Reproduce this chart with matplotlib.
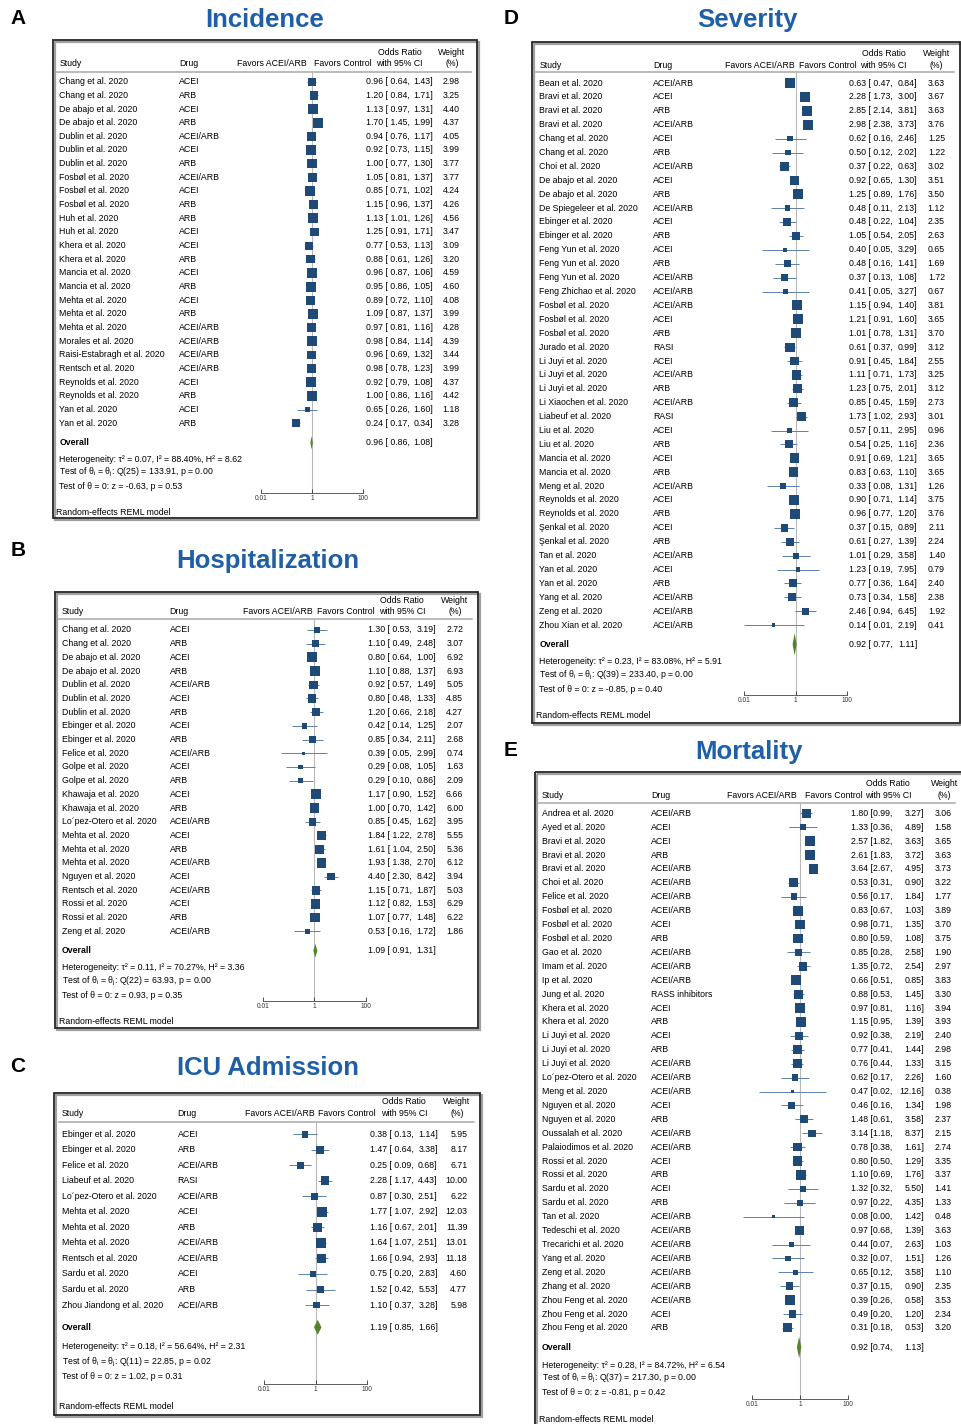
import matplotlib
matplotlib.use("Agg")
import matplotlib.pyplot as plt
import matplotlib.transforms as mtransforms
from matplotlib.patches import Rectangle
from matplotlib.ticker import NullLocator
import numpy as np

plt.rcParams["font.family"] = ["Liberation Sans", "DejaVu Sans"]
plt.rcParams["mathtext.fontset"] = "custom"
plt.rcParams["mathtext.rm"] = "Liberation Sans"
plt.rcParams["mathtext.it"] = "Liberation Sans:italic"

W, H = 961, 1424

# ---------------- data ----------------
# A - Incidence
inc_study = ["Chang et al. 2020", "Chang et al. 2020", "De abajo et al. 2020", "De abajo et al. 2020",
             "Dublin et al. 2020", "Dublin et al. 2020", "Dublin et al. 2020", "Fosbøl et al. 2020",
             "Fosbøl et al. 2020", "Fosbøl et al. 2020", "Huh et al. 2020", "Huh et al. 2020",
             "Khera et al. 2020", "Khera et al. 2020", "Mancia et al. 2020", "Mancia et al. 2020",
             "Mehta et al. 2020", "Mehta et al. 2020", "Mehta et al. 2020", "Morales et al. 2020",
             "Raisi-Estabragh et al. 2020", "Rentsch et al. 2020", "Reynolds et al. 2020",
             "Reynolds et al. 2020", "Yan et al. 2020", "Yan et al. 2020"]
inc_drug = ["ACEI", "ARB", "ACEI", "ARB", "ACEI/ARB", "ACEI", "ARB", "ACEI/ARB", "ACEI", "ARB",
            "ARB", "ACEI", "ACEI", "ARB", "ACEI", "ARB", "ACEI", "ARB", "ACEI/ARB", "ACEI/ARB",
            "ACEI/ARB", "ACEI/ARB", "ACEI", "ARB", "ACEI", "ARB"]
inc_or = [0.96, 1.20, 1.13, 1.70, 0.94, 0.92, 1.00, 1.05, 0.85, 1.15, 1.13, 1.25, 0.77, 0.88,
          0.96, 0.95, 0.89, 1.09, 0.97, 0.98, 0.96, 0.98, 0.92, 1.00, 0.65, 0.24]
inc_lo = [0.64, 0.84, 0.97, 1.45, 0.76, 0.73, 0.77, 0.81, 0.71, 0.96, 1.01, 0.91, 0.53, 0.61,
          0.87, 0.86, 0.72, 0.87, 0.81, 0.84, 0.69, 0.78, 0.79, 0.86, 0.26, 0.17]
inc_hi = [1.43, 1.71, 1.31, 1.99, 1.17, 1.15, 1.30, 1.37, 1.02, 1.37, 1.26, 1.71, 1.13, 1.26,
          1.06, 1.05, 1.10, 1.37, 1.16, 1.14, 1.32, 1.23, 1.08, 1.16, 1.60, 0.34]
inc_wt = [2.98, 3.25, 4.40, 4.37, 4.05, 3.99, 3.77, 3.77, 4.24, 4.26, 4.56, 3.47, 3.09, 3.20,
          4.59, 4.60, 4.08, 3.99, 4.28, 4.39, 3.44, 3.99, 4.37, 4.42, 1.18, 3.28]
inc_overall = [0.96, 0.86, 1.08]
inc_het = [0.07, 88.40, 8.62]
inc_q = [25, 133.91, 0.00]
inc_z = [-0.63, 0.53]

# B - Hospitalization
hos_study = ["Chang et al. 2020", "Chang et al. 2020", "De abajo et al. 2020", "De abajo et al. 2020",
             "Dublin et al. 2020", "Dublin et al. 2020", "Dublin et al. 2020", "Ebinger et al. 2020",
             "Ebinger et al. 2020", "Felice et al. 2020", "Golpe et al. 2020", "Golpe et al. 2020",
             "Khawaja et al. 2020", "Khawaja et al. 2020", "Lo´pez-Otero et al. 2020",
             "Mehta et al. 2020", "Mehta et al. 2020", "Mehta et al. 2020", "Nguyen et al. 2020",
             "Rentsch et al. 2020", "Rossi et al. 2020", "Rossi et al. 2020", "Zeng et al. 2020"]
hos_drug = ["ACEI", "ARB", "ACEI", "ARB", "ACEI/ARB", "ACEI", "ARB", "ACEI", "ARB", "ACEI/ARB",
            "ACEI", "ARB", "ACEI", "ARB", "ACEI/ARB", "ACEI", "ARB", "ACEI/ARB", "ACEI",
            "ACEI/ARB", "ACEI", "ARB", "ACEI/ARB"]
hos_or = [1.30, 1.10, 0.80, 1.10, 0.92, 0.80, 1.20, 0.42, 0.85, 0.39, 0.29, 0.29, 1.17, 1.00,
          0.85, 1.84, 1.61, 1.93, 4.40, 1.15, 1.12, 1.07, 0.53]
hos_lo = [0.53, 0.49, 0.64, 0.88, 0.57, 0.48, 0.66, 0.14, 0.34, 0.05, 0.08, 0.10, 0.90, 0.70,
          0.45, 1.22, 1.04, 1.38, 2.30, 0.71, 0.82, 0.77, 0.16]
hos_hi = [3.19, 2.48, 1.00, 1.37, 1.49, 1.33, 2.18, 1.25, 2.11, 2.99, 1.05, 0.86, 1.52, 1.42,
          1.62, 2.78, 2.50, 2.70, 8.42, 1.87, 1.53, 1.48, 1.72]
hos_wt = [2.72, 3.07, 6.92, 6.93, 5.05, 4.85, 4.27, 2.07, 2.68, 0.74, 1.63, 2.09, 6.66, 6.00,
          3.95, 5.55, 5.36, 6.12, 3.94, 5.03, 6.29, 6.22, 1.86]
hos_overall = [1.09, 0.91, 1.31]
hos_het = [0.11, 70.27, 3.36]
hos_q = [22, 63.93, 0.00]
hos_z = [0.93, 0.35]

# C - ICU admission
icu_study = ["Ebinger et al. 2020", "Ebinger et al. 2020", "Felice et al. 2020", "Liabeuf et al. 2020",
             "Lo´pez-Otero et al. 2020", "Mehta et al. 2020", "Mehta et al. 2020", "Mehta et al. 2020",
             "Rentsch et al. 2020", "Sardu et al. 2020", "Sardu et al. 2020",
             "Zhou Jiandong et al. 2020"]
icu_drug = ["ACEI", "ARB", "ACEI/ARB", "RASI", "ACEI/ARB", "ACEI", "ARB", "ACEI/ARB", "ACEI/ARB",
            "ACEI", "ARB", "ACEI/ARB"]
icu_or = [0.38, 1.47, 0.25, 2.28, 0.87, 1.77, 1.16, 1.64, 1.66, 0.75, 1.52, 1.10]
icu_lo = [0.13, 0.64, 0.09, 1.17, 0.30, 1.07, 0.67, 1.07, 0.94, 0.20, 0.42, 0.37]
icu_hi = [1.14, 3.38, 0.68, 4.43, 2.51, 2.92, 2.01, 2.51, 2.93, 2.83, 5.53, 3.28]
icu_wt = [5.95, 8.17, 6.71, 10.00, 6.22, 12.03, 11.39, 13.01, 11.18, 4.60, 4.77, 5.98]
icu_overall = [1.19, 0.85, 1.66]
icu_het = [0.18, 56.64, 2.31]
icu_q = [11, 22.85, 0.02]
icu_z = [1.02, 0.31]

# D - Severity
sev_study = ["Bean et al. 2020", "Bravi et al. 2020", "Bravi et al. 2020", "Bravi et al. 2020",
             "Chang et al. 2020", "Chang et al. 2020", "Choi et al. 2020", "De abajo et al. 2020",
             "De abajo et al. 2020", "De Spiegeleer et al. 2020", "Ebinger et al. 2020",
             "Ebinger et al. 2020", "Feng Yun et al. 2020", "Feng Yun et al. 2020",
             "Feng Yun et al. 2020", "Feng Zhichao et al. 2020", "Fosbøl et al. 2020",
             "Fosbøl et al. 2020", "Fosbøl et al. 2020", "Jurado et al. 2020", "Li Juyi et al. 2020",
             "Li Juyi et al. 2020", "Li Juyi et al. 2020", "Li Xiaochen et al. 2020",
             "Liabeuf et al. 2020", "Liu et al. 2020", "Liu et al. 2020", "Mancia et al. 2020",
             "Mancia et al. 2020", "Meng et al. 2020", "Reynolds et al. 2020", "Reynolds et al. 2020",
             "Şenkal et al. 2020", "Şenkal et al. 2020", "Tan et al. 2020", "Yan et al. 2020",
             "Yan et al. 2020", "Yang et al. 2020", "Zeng et al. 2020", "Zhou Xian et al. 2020"]
sev_drug = ["ACEI/ARB", "ACEI", "ARB", "ACEI/ARB", "ACEI", "ARB", "ACEI/ARB", "ACEI", "ARB",
            "ACEI/ARB", "ACEI", "ARB", "ACEI", "ARB", "ACEI/ARB", "ACEI/ARB", "ACEI/ARB", "ACEI",
            "ARB", "RASI", "ACEI", "ACEI/ARB", "ARB", "ACEI/ARB", "RASI", "ACEI", "ARB", "ACEI",
            "ARB", "ACEI/ARB", "ACEI", "ARB", "ACEI", "ARB", "ACEI/ARB", "ACEI", "ARB",
            "ACEI/ARB", "ACEI/ARB", "ACEI/ARB"]
sev_or = [0.63, 2.28, 2.85, 2.98, 0.62, 0.50, 0.37, 0.92, 1.25, 0.48, 0.48, 1.05, 0.40, 0.48,
          0.37, 0.41, 1.15, 1.21, 1.01, 0.61, 0.91, 1.11, 1.23, 0.85, 1.73, 0.57, 0.54, 0.91,
          0.83, 0.33, 0.90, 0.96, 0.37, 0.61, 1.01, 1.23, 0.77, 0.73, 2.46, 0.14]
sev_lo = [0.47, 1.73, 2.14, 2.38, 0.16, 0.12, 0.22, 0.65, 0.89, 0.11, 0.22, 0.54, 0.05, 0.16,
          0.13, 0.05, 0.94, 0.91, 0.78, 0.37, 0.45, 0.71, 0.75, 0.45, 1.02, 0.11, 0.25, 0.69,
          0.63, 0.08, 0.71, 0.77, 0.15, 0.27, 0.29, 0.19, 0.36, 0.34, 0.94, 0.01]
sev_hi = [0.84, 3.00, 3.81, 3.73, 2.46, 2.02, 0.63, 1.30, 1.76, 2.13, 1.04, 2.05, 3.29, 1.41,
          1.08, 3.27, 1.40, 1.60, 1.31, 0.99, 1.84, 1.73, 2.01, 1.59, 2.93, 2.95, 1.16, 1.21,
          1.10, 1.31, 1.14, 1.20, 0.89, 1.39, 3.58, 7.95, 1.64, 1.58, 6.45, 2.19]
sev_wt = [3.63, 3.67, 3.63, 3.76, 1.25, 1.22, 3.02, 3.51, 3.50, 1.12, 2.35, 2.63, 0.65, 1.69,
          1.72, 0.67, 3.81, 3.65, 3.70, 3.12, 2.55, 3.25, 3.12, 2.73, 3.01, 0.96, 2.36, 3.65,
          3.65, 1.26, 3.75, 3.76, 2.11, 2.24, 1.40, 0.79, 2.40, 2.38, 1.92, 0.41]
sev_overall = [0.92, 0.77, 1.11]
sev_het = [0.23, 83.08, 5.91]
sev_q = [39, 233.40, 0.00]
sev_z = [-0.85, 0.40]

# E - Mortality
mor_study = ["Andrea et al. 2020", "Ayed et al. 2020", "Bravi et al. 2020", "Bravi et al. 2020",
             "Bravi et al. 2020", "Choi et al. 2020", "Felice et al. 2020", "Fosbøl et al. 2020",
             "Fosbøl et al. 2020", "Fosbøl et al. 2020", "Gao et al. 2020", "Imam et al. 2020",
             "Ip et al. 2020", "Jung et al. 2020", "Khera et al. 2020", "Khera et al. 2020",
             "Li Juyi et al. 2020", "Li Juyi et al. 2020", "Li Juyi et al. 2020",
             "Lo´pez-Otero et al. 2020", "Meng et al. 2020", "Nguyen et al. 2020",
             "Nguyen et al. 2020", "Oussalah et al. 2020", "Palaiodimos et al. 2020",
             "Rossi et al. 2020", "Rossi et al. 2020", "Sardu et al. 2020", "Sardu et al. 2020",
             "Tan et al. 2020", "Tedeschi et al. 2020", "Trecarichi et al. 2020", "Yang et al. 2020",
             "Zeng et al. 2020", "Zhang et al. 2020", "Zhou Feng et al. 2020",
             "Zhou Feng et al. 2020", "Zhou Feng et al. 2020"]
mor_drug = ["ACEI/ARB", "ACEI", "ACEI", "ARB", "ACEI/ARB", "ACEI/ARB", "ACEI/ARB", "ACEI/ARB",
            "ACEI", "ARB", "ACEI/ARB", "ACEI/ARB", "ACEI/ARB", "RASS inhibitors", "ACEI", "ARB",
            "ACEI", "ARB", "ACEI/ARB", "ACEI/ARB", "ACEI/ARB", "ACEI", "ARB", "ACEI/ARB",
            "ACEI/ARB", "ACEI", "ARB", "ACEI", "ARB", "ACEI/ARB", "ACEI/ARB", "ACEI/ARB",
            "ACEI/ARB", "ACEI/ARB", "ACEI/ARB", "ACEI/ARB", "ACEI", "ARB"]
mor_or = [1.80, 1.33, 2.57, 2.61, 3.64, 0.53, 0.56, 0.83, 0.98, 0.80, 0.85, 1.35, 0.66, 0.88,
          0.97, 1.15, 0.92, 0.77, 0.76, 0.62, 0.47, 0.46, 1.48, 3.14, 0.78, 0.80, 1.10, 1.32,
          0.97, 0.08, 0.97, 0.44, 0.32, 0.65, 0.37, 0.39, 0.49, 0.31]
mor_lo = [0.99, 0.36, 1.82, 1.83, 2.67, 0.31, 0.17, 0.67, 0.71, 0.59, 0.28, 0.72, 0.51, 0.53,
          0.81, 0.95, 0.38, 0.41, 0.44, 0.17, 0.02, 0.16, 0.61, 1.18, 0.38, 0.50, 0.69, 0.32,
          0.22, 0.0045, 0.68, 0.07, 0.07, 0.12, 0.15, 0.26, 0.20, 0.18]
mor_hi = [3.27, 4.89, 3.63, 3.72, 4.95, 0.90, 1.84, 1.03, 1.35, 1.08, 2.58, 2.54, 0.85, 1.45,
          1.16, 1.39, 2.19, 1.44, 1.33, 2.26, 12.16, 1.34, 3.58, 8.37, 1.61, 1.29, 1.76, 5.50,
          4.35, 1.42, 1.39, 2.63, 1.51, 3.58, 0.90, 0.58, 1.20, 0.53]
mor_wt = [3.06, 1.58, 3.65, 3.63, 3.73, 3.22, 1.77, 3.89, 3.70, 3.75, 1.90, 2.97, 3.83, 3.30,
          3.94, 3.93, 2.40, 2.98, 3.15, 1.60, 0.38, 1.98, 2.37, 2.15, 2.74, 3.35, 3.37, 1.41,
          1.33, 0.48, 3.63, 1.03, 1.26, 1.10, 2.35, 3.53, 2.34, 3.20]
mor_overall = [0.92, 0.74, 1.13]
mor_het = [0.28, 84.72, 6.54]
mor_q = [37, 217.30, 0.00]
mor_z = [-0.81, 0.42]

# ---------------- layout (pixels) ----------------
lay_inc = dict(box=(52.7, 40, 476.7, 518), or_y=52.3, head_y=63.3, hdr=71.7, row0=81.7, sp=13.66,
               overall=442.7, stats=(460, 472.7, 486.7), axis=493, rnd=512.7,
               study=59.3, drug=179, x001=261, x100=363, fav_r=307, fav_l=314.5, or_c=399.5,
               val_l=366, val_r=433, wt_r=460, wt_c=452, dh=0.48, gap=True)
lay_hos = dict(box=(55, 592, 478, 1028), or_y=600.7, head_y=611.7, hdr=618.7, row0=630, sp=13.7,
               overall=950.7, stats=(967.7, 981.3, 995), axis=1000.7, rnd=1021,
               study=61.7, drug=169.5, x001=262.7, x100=366, fav_r=312.3, fav_l=316.7, or_c=402,
               val_l=368, val_r=436, wt_r=463.3, wt_c=455, dh=0.5, gap=True)
lay_icu = dict(box=(54, 1093, 480, 1415), or_y=1101, head_y=1114, hdr=1121.7, row0=1134.3, sp=15.52,
               overall=1327.3, stats=(1346.7, 1362.3, 1376.7), axis=1384, rnd=1406.7,
               study=61.7, drug=177.7, x001=264.3, x100=367.3, fav_r=315, fav_l=318.3, or_c=404,
               val_l=370, val_r=437.7, wt_r=467.3, wt_c=457, dh=0.48, gap=True)
lay_sev = dict(box=(531.7, 41.7, 959.5, 722.7), or_y=53.3, head_y=65, hdr=72.3, row0=83, sp=13.9,
               overall=644.3, stats=(661.7, 675.3, 689.3), axis=695, rnd=715,
               study=539.3, drug=653, x001=744.3, x100=846.7, fav_r=794.3, fav_l=798.7, or_c=883.5,
               val_l=849.3, val_r=917.3, wt_r=945, wt_c=936.7, dh=0.8, gap=True)
lay_mor = dict(box=(535, 771.7, 963, 1440), or_y=784, head_y=795.3, hdr=803.3, row0=813.3, sp=13.91,
               overall=1347.3, stats=(1365, 1378.7, 1392.7), axis=1399.3, rnd=1419,
               study=541.7, drug=651, x001=751.7, x100=848.3, fav_r=796.7, fav_l=805, or_c=888,
               val_l=851, val_r=924, wt_r=951.7, wt_c=944.3, dh=0.78, gap=False)

SQ = "#1f4a78"
CI = "#5a82ad"
DIA = "#55852b"
TITLE = "#1f5fa6"
FS = 6.3

fig = plt.figure(figsize=(W / 100, H / 100), dpi=100)
canvas = fig.add_axes([0, 0, 1, 1])
canvas.set_xlim(0, W)
canvas.set_ylim(H, 0)
canvas.axis("off")


def ci_text(o, l, h, gap):
    left = f"{o:.2f} [ {l:.2f}," if gap else f"{o:.2f} [{l:.2f},"
    return left, f"{h:.2f}]"


def draw_panel(lay, study, drug, odds, lo, hi, wt, overall, het, q, z):
    x0, y0, x1, y1 = lay["box"]
    canvas.add_patch(Rectangle((x0 + 2, y0 + 2), x1 - x0, y1 - y0, fill=False,
                               ec="#a0a0a0", lw=1.6, zorder=1))
    canvas.add_patch(Rectangle((x0, y0), x1 - x0, y1 - y0, fill=False,
                               ec="#262626", lw=1.3, zorder=2))

    # forest axes, log odds ratio on x, row index on y
    xa, xb, yt, yb = lay["x001"], lay["x100"], lay["hdr"], lay["axis"]
    fax = fig.add_axes([xa / W, 1 - yb / H, (xb - xa) / W, (yb - yt) / H])
    fax.set_xscale("log")
    fax.set_xlim(0.01, 100)
    fax.set_ylim((yb - lay["row0"]) / lay["sp"], (yt - lay["row0"]) / lay["sp"])
    fax.patch.set_alpha(0)
    for s in ["top", "left", "right"]:
        fax.spines[s].set_visible(False)
    fax.spines["bottom"].set_bounds(0.01, 100)
    fax.spines["bottom"].set_linewidth(0.6)
    fax.spines["bottom"].set_color("#444444")
    fax.set_xticks([0.01, 1, 100])
    fax.set_xticklabels(["0.01", "1", "100"])
    fax.xaxis.set_minor_locator(NullLocator())
    fax.tick_params(axis="x", direction="in", length=3, width=0.6, labelsize=4.8, pad=1.5,
                    colors="#333333")
    fax.set_yticks([])
    fax.axvline(1, color="#b8b8b8", lw=0.8, zorder=1)

    rows = np.arange(len(study))
    wt = np.array(wt)
    side = 7.2 * np.sqrt(wt / wt.max())
    fax.hlines(rows, lo, hi, color=CI, lw=0.7, zorder=2, clip_on=False)
    fax.scatter(odds, rows, s=side ** 2, marker="s", color=SQ, lw=0, zorder=3, clip_on=False)

    r_ov = (lay["overall"] - lay["row0"]) / lay["sp"]
    dh = lay["dh"]
    fax.fill([overall[1], overall[0], overall[2], overall[0]],
             [r_ov, r_ov - dh, r_ov, r_ov + dh], color=DIA, lw=0, zorder=3)

    # row texts: x in pixels, y in row units of the forest axes
    tr = mtransforms.blended_transform_factory(canvas.transData, fax.transData)
    for r in rows:
        canvas.text(lay["study"], r, study[r], transform=tr, fontsize=FS, va="center")
        canvas.text(lay["drug"], r, drug[r], transform=tr, fontsize=FS, va="center")
        left, right = ci_text(odds[r], lo[r], hi[r], lay["gap"])
        canvas.text(lay["val_l"], r, left, transform=tr, fontsize=FS, va="center")
        canvas.text(lay["val_r"], r, right, transform=tr, fontsize=FS, va="center", ha="right")
        canvas.text(lay["wt_r"], r, f"{wt[r]:.2f}", transform=tr, fontsize=FS, va="center",
                    ha="right")
    canvas.text(lay["study"], r_ov, "Overall", transform=tr, fontsize=FS, va="center",
                fontweight="bold")
    left, right = ci_text(overall[0], overall[1], overall[2], lay["gap"])
    canvas.text(lay["val_l"], r_ov, left, transform=tr, fontsize=FS, va="center")
    canvas.text(lay["val_r"], r_ov, right, transform=tr, fontsize=FS, va="center", ha="right")

    # header
    hy, oy = lay["head_y"], lay["or_y"]
    canvas.text(lay["study"], hy, "Study", fontsize=FS, va="center")
    canvas.text(lay["drug"], hy, "Drug", fontsize=FS, va="center")
    canvas.text(lay["fav_r"], hy, "Favors ACEI/ARB", fontsize=FS, va="center", ha="right")
    canvas.text(lay["fav_l"], hy, "Favors Control", fontsize=FS, va="center", ha="left")
    canvas.text(lay["or_c"], oy, "Odds Ratio", fontsize=FS, va="center", ha="center")
    canvas.text(lay["or_c"], hy, "with 95% CI", fontsize=FS, va="center", ha="center")
    canvas.text(lay["wt_c"], oy, "Weight", fontsize=FS, va="center", ha="center")
    canvas.text(lay["wt_c"], hy, "(%)", fontsize=FS, va="center", ha="center")
    canvas.plot([lay["study"] - 3, min(x1, W) - 6], [lay["hdr"], lay["hdr"]], color="#a8a8a8",
                lw=1.1, zorder=2)

    # footer statistics
    s1, s2, s3 = lay["stats"]
    canvas.text(lay["study"], s1,
                f"Heterogeneity: τ² = {het[0]:.2f}, I² = {het[1]:.2f}%, H² = {het[2]:.2f}",
                fontsize=FS, va="center")
    canvas.text(lay["study"], s2,
                f"Test of θ$_\\mathrm{{i}}$ = θ$_\\mathrm{{j}}$: Q({q[0]}) = {q[1]:.2f}, p = {q[2]:.2f}",
                fontsize=FS, va="center")
    canvas.text(lay["study"], s3, f"Test of θ = 0: z = {z[0]:.2f}, p = {z[1]:.2f}",
                fontsize=FS, va="center")
    canvas.text(lay["study"] - 3, lay["rnd"], "Random-effects REML model", fontsize=FS,
                va="center")


draw_panel(lay_inc, inc_study, inc_drug, inc_or, inc_lo, inc_hi, inc_wt, inc_overall, inc_het,
           inc_q, inc_z)
draw_panel(lay_hos, hos_study, hos_drug, hos_or, hos_lo, hos_hi, hos_wt, hos_overall, hos_het,
           hos_q, hos_z)
draw_panel(lay_icu, icu_study, icu_drug, icu_or, icu_lo, icu_hi, icu_wt, icu_overall, icu_het,
           icu_q, icu_z)
draw_panel(lay_sev, sev_study, sev_drug, sev_or, sev_lo, sev_hi, sev_wt, sev_overall, sev_het,
           sev_q, sev_z)
draw_panel(lay_mor, mor_study, mor_drug, mor_or, mor_lo, mor_hi, mor_wt, mor_overall, mor_het,
           mor_q, mor_z)

# panel letters and titles
for letter, (lx, ly) in zip("ABCDE", [(18, 18), (18, 551), (18, 1067), (511, 18), (511, 751)]):
    canvas.text(lx, ly, letter, fontsize=15, fontweight="bold", ha="center", va="center")
for title, (tx, ty) in zip(["Incidence", "Hospitalization", "ICU Admission", "Severity", "Mortality"],
                           [(265, 20), (268, 561), (268, 1068), (747, 20), (749, 752)]):
    canvas.text(tx, ty, title, fontsize=18.5, fontweight="bold", color=TITLE, ha="center",
                va="center")

fig.savefig("out.png", dpi=100)
